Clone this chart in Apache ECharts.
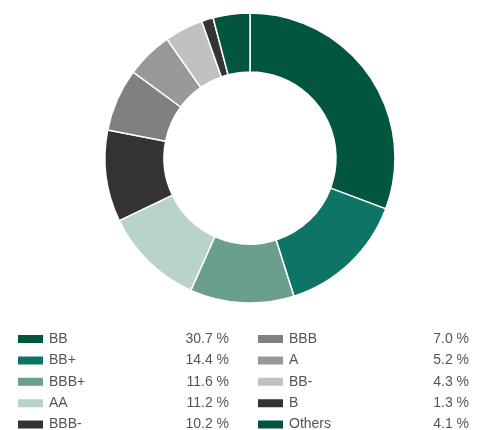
<!DOCTYPE html>
<html>
<head>
<meta charset="utf-8">
<script src="https://cdn.jsdelivr.net/npm/echarts@6/dist/echarts.min.js"></script>
<style>
  html, body { margin: 0; padding: 0; background: #fff; }
  #main { width: 491px; height: 430px; }
</style>
</head>
<body>
<div id="main"></div>
<script>
  // ratings split, clockwise from 12 o'clock
  const ratings = ['BB', 'BB+', 'BBB+', 'AA', 'BBB-', 'BBB', 'A', 'BB-', 'B', 'Others']
  const shares = [30.7, 14.4, 11.6, 11.2, 10.2, 7.0, 5.2, 4.3, 1.3, 4.1]
  const colors = ['#02563f', '#0e7566', '#6a9e8e', '#b8d3c9', '#333333', '#808080', '#989898', '#c1c1c1', '#333333', '#02563f']

  const chart = echarts.init(document.getElementById('main'))

  const shareOf = {}
  ratings.forEach((r, i) => { shareOf[r] = shares[i] })

  const legendBase = {
    orient: 'vertical',
    top: 332,
    height: 120,
    padding: 0,
    itemWidth: 27,
    itemHeight: 10,
    itemGap: 7.4,
    icon: 'rect',
    selectedMode: false,
    textStyle: {
      rich: {
        n: { width: 128, fontSize: 14, color: '#555', fontFamily: 'Liberation Sans' },
        v: { width: 52, align: 'right', fontSize: 14, color: '#555', fontFamily: 'Liberation Sans' }
      }
    },
    formatter: (name) => '{n|' + name + '}{v|' + shareOf[name].toFixed(1) + ' %}'
  }

  const option = {
    animation: false,
    color: colors,
    legend: [
      Object.assign({}, legendBase, { left: 16, data: ratings.slice(0, 5) }),
      Object.assign({}, legendBase, { left: 256, data: ratings.slice(5) })
    ],
    series: [
      {
        type: 'pie',
        center: [250, 158],
        radius: [86, 145],
        startAngle: 90,
        clockwise: true,
        label: { show: false },
        labelLine: { show: false },
        itemStyle: { borderColor: '#fff', borderWidth: 1.5 },
        emphasis: { disabled: true },
        data: ratings.map((r, i) => ({ name: r, value: shares[i] }))
      }
    ]
  }
  chart.setOption(option)
</script>
</body>
</html>
